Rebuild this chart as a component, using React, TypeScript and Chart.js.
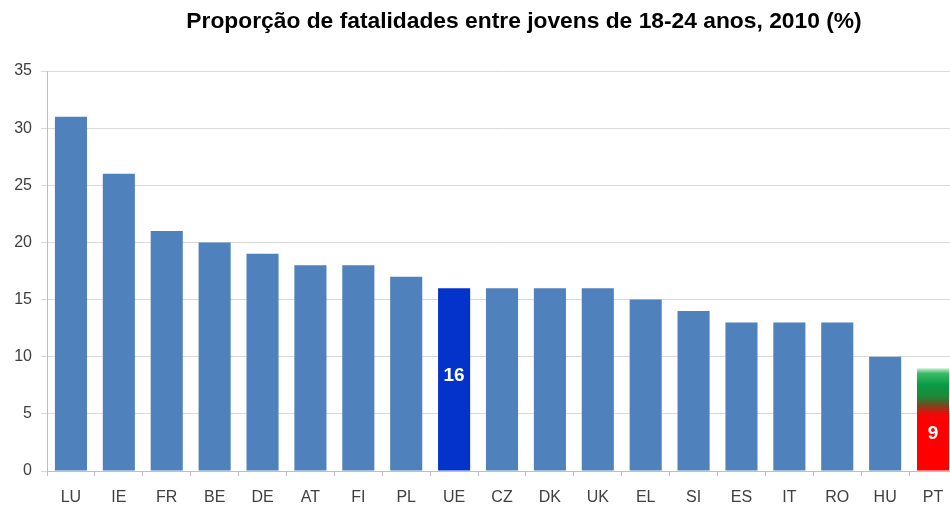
import React, { useEffect, useRef } from "react";
import { Chart, registerables } from "chart.js";

Chart.register(...registerables);

const TITLE = "Proporção de fatalidades entre jovens de 18-24 anos, 2010 (%)";
const categories = ["LU", "IE", "FR", "BE", "DE", "AT", "FI", "PL", "UE", "CZ", "DK", "UK", "EL", "SI", "ES", "IT", "RO", "HU", "PT"];
const values = [31, 26, 21, 20, 19, 18, 18, 17, 16, 16, 16, 16, 15, 14, 13, 13, 13, 10, 9];
const yTicks = [0, 5, 10, 15, 20, 25, 30, 35];
const labelled = ["UE", "PT"];
const labelFraction = [0.52, 0.36];

const BLUE = "#4F81BD";
const UE_BLUE = "#0433CC";
const FONT = "'Liberation Sans', Arial, sans-serif";

export default function App() {
  const ref = useRef<HTMLCanvasElement | null>(null);
  useEffect(() => {
    const canvas = ref.current;
    if (!canvas) return;
    const labelPlugin = {
      id: "barLabels",
      afterDatasetsDraw(chart: any) {
        const meta = chart.getDatasetMeta(0);
        const ys = chart.scales.y;
        const c = chart.ctx;
        c.save();
        c.fillStyle = "#ffffff";
        c.font = "bold 19px " + FONT;
        c.textAlign = "center";
        c.textBaseline = "middle";
        labelled.forEach((cat, k) => {
          const i = categories.indexOf(cat);
          const el = meta.data[i];
          const y = ys.getPixelForValue(values[i] * labelFraction[k]);
          c.fillText(String(values[i]), el.x, y);
        });
        c.restore();
      },
    };
    const titlePlugin = {
      id: "offsetTitle",
      afterDraw(chart: any) {
        const c = chart.ctx;
        c.save();
        c.fillStyle = "#000000";
        c.font = "bold 22.8px " + FONT;
        c.textAlign = "center";
        c.textBaseline = "middle";
        c.fillText(TITLE, 524, 22);
        c.restore();
      },
    };
    const chart = new Chart(canvas, {
      type: "bar",
      data: {
        labels: categories,
        datasets: [
          {
            data: values,
            backgroundColor: (ctx: any) => {
              const cat = categories[ctx.dataIndex];
              if (cat === "UE") return UE_BLUE;
              if (cat === "PT") {
                const chart = ctx.chart;
                const ys = chart.scales?.y;
                if (!ys) return "#ff0000";
                const top = ys.getPixelForValue(values[ctx.dataIndex]);
                const bot = ys.getPixelForValue(0);
                const g = chart.ctx.createLinearGradient(0, top, 0, bot);
                g.addColorStop(0, "#d0eed8");
                g.addColorStop(0.05, "#3cbc66");
                g.addColorStop(0.16, "#0a9c46");
                g.addColorStop(0.27, "#1a8a3a");
                g.addColorStop(0.34, "#5a5a24");
                g.addColorStop(0.4, "#b02a14");
                g.addColorStop(0.45, "#f20808");
                g.addColorStop(0.5, "#ff0000");
                g.addColorStop(1, "#ff0000");
                return g;
              }
              return BLUE;
            },
            barPercentage: 0.67,
            categoryPercentage: 1,
          },
        ],
      },
      options: {
        responsive: false,
        animation: false,
        layout: { padding: { left: 0, right: 3, top: 71, bottom: 0 } },
        plugins: {
          legend: { display: false },
          tooltip: { enabled: false },
          title: { display: false },
        },
        scales: {
          x: {
            afterFit: (s: any) => { s.height = 34; },
            grid: { offset: true, drawOnChartArea: false, tickLength: 5, color: "#bfbfbf" },
            border: { color: "#bfbfbf" },
            ticks: {
              color: "#404040",
              padding: 12,
              font: { family: FONT, size: 16 },
              maxRotation: 0,
              autoSkip: false,
            },
          },
          y: {
            min: 0,
            max: 35,
            afterFit: (s: any) => { s.width = 47; },
            afterBuildTicks: (s: any) => { s.ticks = yTicks.map((v) => ({ value: v })); },
            grid: { color: "#d9d9d9", tickLength: 6 },
            border: { color: "#bfbfbf" },
            ticks: {
              color: "#404040",
              padding: 9,
              font: { family: FONT, size: 16 },
            },
          },
        },
      },
      plugins: [labelPlugin, titlePlugin],
    } as any);
    return () => chart.destroy();
  }, []);
  return (
    <div style={{ position: "fixed", left: 0, top: 0, width: 950, height: 505, overflow: "hidden", background: "#fff" }}>
      <canvas ref={ref} width={960} height={505} style={{ width: 960, height: 505, display: "block" }} />
    </div>
  );
}
